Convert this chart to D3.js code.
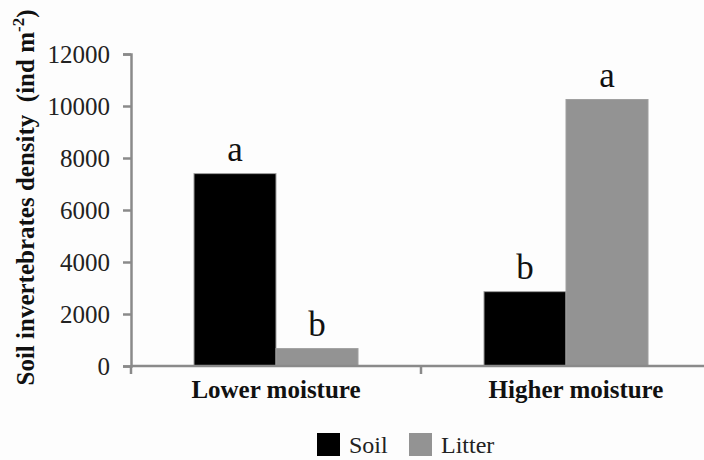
<!DOCTYPE html>
<html>
<head>
<meta charset="utf-8">
<script src="https://cdn.jsdelivr.net/npm/d3@7"></script>
<style>
  html, body { margin: 0; padding: 0; background: #fdfdfd; }
  svg { display: block; }
</style>
</head>
<body>
<svg id="chart" width="704" height="460" font-family="Liberation Serif, Times New Roman, serif"></svg>
<script>
// Soil invertebrate density by moisture level (ind m^-2)
const categories = ["Lower moisture", "Higher moisture"];
const seriesNames = ["Soil", "Litter"];
const soilValues = [7400, 2860];
const litterValues = [670, 10250];
const soilLetters = ["a", "b"];
const litterLetters = ["b", "a"];
const yTicks = [0, 2000, 4000, 6000, 8000, 10000, 12000];

const colors = { Soil: "#000000", Litter: "#939393" };
const axisColor = "#8a8a8a";
const serif = "Liberation Serif, Times New Roman, serif";

const svg = d3.select("#chart");
const margin = { left: 131, right: -7, top: 54, bottom: 94 };
const W = 704, H = 460;

const x0 = d3.scaleBand()
  .domain(categories)
  .range([margin.left, W - margin.right])
  .paddingInner(0)
  .paddingOuter(0);

const x1 = d3.scaleBand()
  .domain(seriesNames)
  .range([0, x0.bandwidth()])
  .paddingOuter(0.768)
  .paddingInner(0);

const y = d3.scaleLinear()
  .domain([0, 12000])
  .range([H - margin.bottom, margin.top]);

const rows = categories.map((c, i) => ({
  category: c,
  bars: [
    { series: "Soil", value: soilValues[i], letter: soilLetters[i] },
    { series: "Litter", value: litterValues[i], letter: litterLetters[i] }
  ]
}));

// Bars
const groups = svg.append("g").selectAll("g")
  .data(rows).join("g")
  .attr("transform", d => `translate(${x0(d.category)},0)`);

groups.selectAll("rect")
  .data(d => d.bars).join("rect")
  .attr("x", d => x1(d.series))
  .attr("y", d => y(d.value))
  .attr("width", x1.bandwidth())
  .attr("height", d => y(0) - y(d.value))
  .attr("fill", d => colors[d.series])
  .attr("stroke", "#a0a0a0")
  .attr("stroke-width", 1);

// Significance letters
groups.selectAll("text.letter")
  .data(d => d.bars).join("text")
  .attr("class", "letter")
  .attr("x", d => x1(d.series) + x1.bandwidth() / 2)
  .attr("y", d => y(d.value) - 13)
  .attr("text-anchor", "middle")
  .attr("font-family", serif)
  .attr("font-size", 35)
  .attr("fill", "#111")
  .text(d => d.letter);

// Y axis
const yAxis = svg.append("g")
  .attr("transform", `translate(${margin.left},0)`)
  .call(d3.axisLeft(y).tickValues(yTicks).tickSize(8).tickPadding(13).tickFormat(d3.format("d")))
  .attr("font-family", serif)
  .attr("font-size", 25);
yAxis.select(".domain").attr("stroke", axisColor).attr("stroke-width", 2.5);
yAxis.selectAll(".tick line").attr("stroke", axisColor).attr("stroke-width", 2.5);
yAxis.selectAll(".tick text").attr("fill", "#222");

// X axis: baseline with boundary ticks between categories
const xAxisG = svg.append("g");
xAxisG.append("line")
  .attr("x1", margin.left).attr("x2", W)
  .attr("y1", y(0)).attr("y2", y(0))
  .attr("stroke", axisColor).attr("stroke-width", 2.5);
xAxisG.selectAll("line.bound")
  .data(categories).join("line")
  .attr("class", "bound")
  .attr("x1", d => x0(d)).attr("x2", d => x0(d))
  .attr("y1", y(0)).attr("y2", y(0) + 8)
  .attr("stroke", axisColor).attr("stroke-width", 2.5);

xAxisG.selectAll("text.cat")
  .data(categories).join("text")
  .attr("class", "cat")
  .attr("x", d => x0(d) + x0.bandwidth() / 2 + (d === "Higher moisture" ? 10 : 0))
  .attr("y", 398)
  .attr("text-anchor", "middle")
  .attr("font-family", serif)
  .attr("font-size", 25)
  .attr("font-weight", "bold")
  .attr("fill", "#111")
  .text(d => d);

// Y axis title
const yTitle = svg.append("text")
  .attr("transform", `translate(34,${(387 + 8) / 2}) rotate(-90)`)
  .attr("text-anchor", "middle")
  .attr("font-family", serif)
  .attr("font-size", 25)
  .attr("font-weight", "bold")
  .attr("fill", "#111");
yTitle.append("tspan").text("Soil invertebrates density\u00a0\u00a0(ind m");
yTitle.append("tspan").attr("dy", -10).attr("font-size", 17).text("-2");
yTitle.append("tspan").attr("dy", 10).text(")");

// Legend
const legend = svg.append("g").attr("transform", "translate(317,433)");
const legendItems = [
  { name: "Soil", x: 0 },
  { name: "Litter", x: 92 }
];
legend.selectAll("rect")
  .data(legendItems).join("rect")
  .attr("x", d => d.x).attr("y", 0)
  .attr("width", 23).attr("height", 23)
  .attr("fill", d => colors[d.name]);
legend.selectAll("text")
  .data(legendItems).join("text")
  .attr("x", d => d.x + 32).attr("y", 20)
  .attr("font-family", serif)
  .attr("font-size", 24)
  .attr("fill", "#222")
  .text(d => d.name);
</script>
</body>
</html>
